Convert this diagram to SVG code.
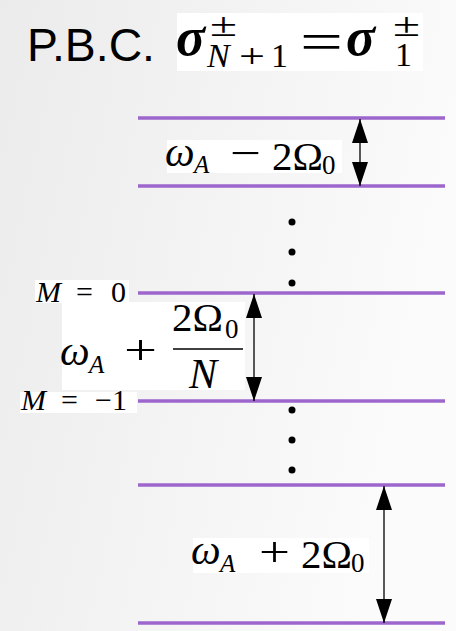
<svg xmlns="http://www.w3.org/2000/svg" width="456" height="631" viewBox="0 0 456 631">
<defs>
<linearGradient id="bg" x1="0" y1="0" x2="1" y2="0.3">
<stop offset="0" stop-color="#ebebeb"/>
<stop offset="1" stop-color="#fbfbfb"/>
</linearGradient>
<marker id="ah" viewBox="0 0 24 16" refX="24" refY="8" markerWidth="24" markerHeight="16" markerUnits="userSpaceOnUse" orient="auto">
<path d="M0,0 L24,8 L0,16 Z" fill="#000"/>
</marker>
<style>
.lvl{stroke:#9c66cc;stroke-width:3.5}
.m{font-family:"Liberation Serif","Times New Roman",serif;fill:#000}
.i{font-style:italic}
.box{fill:#fff}
.arr{stroke:#000;stroke-width:1.3;fill:none}
.dot{fill:#000}
</style>
</defs>
<rect width="456" height="631" fill="url(#bg)"/>

<g id="title">
<text x="27" y="61" font-family="Liberation Sans, Arial, sans-serif" font-size="46" textLength="128" lengthAdjust="spacingAndGlyphs">P.B.C.</text>
<rect class="box" x="177" y="13" width="246" height="58"/>
<text class="m i" font-size="54" font-weight="bold" x="176" y="55">σ</text>
<text class="m" font-size="34"><tspan x="210" y="36" textLength="27" lengthAdjust="spacingAndGlyphs">±</tspan><tspan class="i" x="207" y="67">N</tspan><tspan x="239" y="67" textLength="26" lengthAdjust="spacingAndGlyphs">+</tspan><tspan x="271" y="67">1</tspan></text>
<text class="m" font-size="54" x="300" y="60" textLength="43" lengthAdjust="spacingAndGlyphs">=</text>
<text class="m i" font-size="54" font-weight="bold" x="346" y="55">σ</text>
<text class="m" font-size="34"><tspan x="393" y="36" textLength="27" lengthAdjust="spacingAndGlyphs">±</tspan><tspan x="395" y="66">1</tspan></text>
</g>

<g id="levels">
<line class="lvl" x1="138" y1="118" x2="445" y2="118"/>
<line class="lvl" x1="138" y1="186" x2="445" y2="186"/>
<line class="lvl" x1="138" y1="293" x2="445" y2="293"/>
<line class="lvl" x1="138" y1="401" x2="445" y2="401"/>
<line class="lvl" x1="138" y1="485" x2="445" y2="485"/>
<line class="lvl" x1="138" y1="623" x2="445" y2="623"/>
</g>

<g id="dots">
<circle class="dot" cx="292" cy="222" r="3.5"/>
<circle class="dot" cx="292" cy="252" r="3.5"/>
<circle class="dot" cx="292" cy="283" r="3.5"/>
<circle class="dot" cx="292" cy="410" r="3.5"/>
<circle class="dot" cx="292" cy="440" r="3.5"/>
<circle class="dot" cx="292" cy="470" r="3.5"/>
</g>

<g id="connectors">
<line class="arr" x1="360" y1="152" x2="360" y2="119" marker-end="url(#ah)"/>
<line class="arr" x1="360" y1="152" x2="360" y2="186" marker-end="url(#ah)"/>
<line class="arr" x1="254" y1="347" x2="254" y2="294" marker-end="url(#ah)"/>
<line class="arr" x1="254" y1="347" x2="254" y2="401" marker-end="url(#ah)"/>
<line class="arr" x1="384" y1="554" x2="384" y2="486" marker-end="url(#ah)"/>
<line class="arr" x1="384" y1="554" x2="384" y2="623" marker-end="url(#ah)"/>
</g>

<g id="label-top">
<rect class="box" x="167" y="140" width="175" height="33"/>
<text class="m i" font-size="42" x="165" y="166">ω</text>
<text class="m i" font-size="25" x="194" y="173">A</text>
<text class="m" font-size="42" x="230" y="167" textLength="31" lengthAdjust="spacingAndGlyphs">−</text>
<text class="m" font-size="41" x="272" y="170">2Ω</text>
<text class="m" font-size="27" x="322" y="174">0</text>
</g>

<g id="label-m0">
<rect class="box" x="35" y="280" width="94" height="23"/>
<text class="m" font-size="30"><tspan class="i" x="36" y="302">M</tspan><tspan x="76" y="302">=</tspan><tspan x="111" y="302">0</tspan></text>
</g>

<g id="label-mid">
<rect class="box" x="62" y="302" width="183" height="88"/>
<text class="m i" font-size="42" x="60" y="365">ω</text>
<text class="m i" font-size="25" x="89" y="373">A</text>
<text class="m" font-size="42" x="124" y="364" textLength="33" lengthAdjust="spacingAndGlyphs">+</text>
<text class="m" font-size="41" x="172" y="331">2Ω</text>
<text class="m" font-size="27" x="225" y="338">0</text>
<line x1="173" y1="349" x2="243" y2="349" stroke="#000" stroke-width="1.5"/>
<text class="m i" font-size="42" x="189" y="388">N</text>
</g>

<g id="label-m1">
<rect class="box" x="20" y="392" width="117" height="21"/>
<text class="m" font-size="30"><tspan class="i" x="21" y="410">M</tspan><tspan x="61" y="410">=</tspan><tspan x="95" y="410">−1</tspan></text>
</g>

<g id="label-bottom">
<rect class="box" x="193" y="538" width="176" height="35"/>
<text class="m i" font-size="42" x="191" y="564">ω</text>
<text class="m i" font-size="25" x="220" y="572">A</text>
<text class="m" font-size="42" x="259" y="566" textLength="31" lengthAdjust="spacingAndGlyphs">+</text>
<text class="m" font-size="41" x="301" y="568">2Ω</text>
<text class="m" font-size="27" x="351" y="572">0</text>
</g>
</svg>
